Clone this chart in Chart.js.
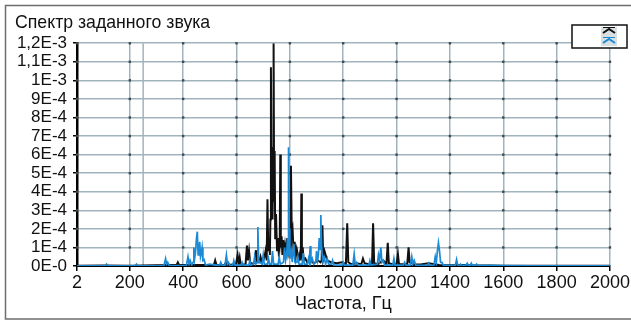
<!DOCTYPE html>
<html>
<head>
<meta charset="utf-8">
<script src="https://cdn.jsdelivr.net/npm/chart.js@4.4.0/dist/chart.umd.min.js"></script>
<style>
html, body { margin: 0; padding: 0; background: #fff; }
#wrap { width: 631px; height: 322px; }
</style>
</head>
<body>
<div id="wrap"><canvas id="spectrum_chart"></canvas></div>
<script>
const xTicks = [2, 200, 400, 600, 800, 1000, 1200, 1400, 1600, 1800, 2000];
// y values are kept in units of 1E-4
const yTickLabels = ['0E-0', '1E-4', '2E-4', '3E-4', '4E-4', '5E-4', '6E-4',
    '7E-4', '8E-4', '9E-4', '1E-3', '1,1E-3', '1,2E-3'];
const cursorFreq = 250;

// [frequency Hz, amplitude x1E-4]
const blackSpectrum = [
    [2, 0.02], [100, 0.03], [200, 0.02], [300, 0.04], [335, 0.05], [340, 0.15], [345, 0.05],
    [375, 0.05], [380, 0.2], [385, 0.05], [430, 0.05], [515, 0.05], [520, 0.3], [525, 0.05],
    [555, 0.05], [560, 0.2], [565, 0.05], [598, 0.1], [604, 0.6], [608, 0.1], [612, 0.45],
    [616, 0.05], [634, 0.1], [639, 1.1], [643, 0.3], [647, 0.8], [651, 0.2], [660, 0.1],
    [668, 0.2], [673, 0.85], [677, 0.2], [685, 0.2], [690, 0.5], [695, 0.2], [700, 0.3],
    [705, 0.5], [710, 0.9], [713, 0.3], [716, 3.6], [719, 0.8], [722, 1.5], [725, 0.6],
    [727, 2.5], [729, 10.7], [731, 4.0], [733, 6.4], [735, 2.5], [737, 5.0], [739, 12.0],
    [741, 3.5], [743, 6.2], [745, 1.5], [748, 2.8], [752, 0.8], [756, 1.5], [759, 0.5],
    [762, 1.2], [764, 6.0], [766, 1.0], [769, 1.6], [772, 0.6], [775, 1.4], [778, 0.5],
    [782, 1.1], [786, 0.6], [790, 1.5], [794, 0.7], [798, 1.0], [801, 0.8], [804, 5.4],
    [807, 1.8], [810, 2.0], [814, 0.7], [818, 1.3], [822, 0.5], [826, 0.9], [830, 0.6],
    [834, 0.4], [838, 0.7], [841, 0.3], [843, 3.9], [845, 0.4], [848, 1.0], [852, 0.3],
    [858, 0.4], [865, 0.2], [875, 0.3], [890, 0.15], [905, 0.3], [915, 0.2], [919, 0.3],
    [922, 2.2], [925, 0.4], [930, 0.8], [940, 0.3], [955, 0.2], [975, 0.15], [995, 0.2],
    [1010, 0.1], [1015, 2.3], [1019, 0.2], [1030, 0.1], [1050, 0.15], [1068, 0.1], [1074, 0.4],
    [1080, 0.15], [1095, 0.1], [1108, 0.1], [1112, 2.3], [1116, 0.15], [1130, 0.1], [1150, 0.3],
    [1162, 0.1], [1167, 1.25], [1171, 0.15], [1185, 0.1], [1200, 0.1], [1205, 0.65], [1209, 0.1],
    [1225, 0.1], [1240, 0.1], [1245, 1.0], [1249, 0.2], [1265, 0.1], [1290, 0.08], [1320, 0.15],
    [1360, 0.05], [1400, 0.04], [1450, 0.05], [1500, 0.03], [1550, 0.03], [1600, 0.02],
    [1700, 0.02], [1800, 0.02], [1900, 0.02], [2000, 0.02]
];

const blueSpectrum = [
    [2, 0.01], [108, 0.01], [113, 0.1], [118, 0.01], [220, 0.01], [225, 0.1], [230, 0.01],
    [328, 0.02], [334, 0.4], [338, 0.1], [342, 0.2], [348, 0.02], [412, 0.02], [418, 0.5],
    [422, 0.1], [426, 0.3], [432, 0.05], [437, 0.2], [440, 1.0], [443, 0.4], [446, 0.7],
    [450, 1.5], [453, 1.85], [456, 0.6], [459, 0.9], [462, 1.3], [465, 0.5], [468, 0.7],
    [471, 1.0], [474, 0.3], [478, 0.35], [484, 0.05], [500, 0.1], [520, 0.05], [537, 0.05],
    [541, 0.2], [545, 0.05], [557, 0.05], [562, 0.6], [566, 0.1], [570, 0.2], [575, 0.03],
    [586, 0.05], [590, 0.3], [594, 0.05], [617, 0.05], [621, 0.2], [625, 0.05], [646, 0.05],
    [650, 0.3], [654, 0.05], [664, 0.1], [668, 0.5], [672, 0.1], [677, 0.2], [680, 2.1],
    [683, 0.3], [687, 0.2], [696, 0.1], [700, 0.6], [704, 0.1], [716, 0.1], [720, 0.4],
    [724, 0.1], [731, 0.1], [735, 0.8], [739, 0.1], [756, 0.1], [760, 0.5], [764, 0.1],
    [776, 0.2], [780, 1.0], [784, 0.3], [788, 0.6], [791, 1.5], [793, 0.6], [795, 6.4],
    [797, 2.0], [800, 0.4], [805, 0.8], [809, 0.2], [815, 1.2], [819, 0.2], [826, 0.2],
    [830, 0.5], [834, 0.1], [846, 0.1], [850, 0.7], [854, 0.1], [866, 0.1], [870, 0.4],
    [873, 0.2], [876, 1.07], [879, 0.2], [884, 0.4], [890, 0.1], [897, 0.2], [900, 0.8],
    [904, 0.3], [907, 0.6], [910, 1.5], [913, 0.9], [916, 2.75], [919, 1.0], [923, 0.3],
    [928, 0.5], [934, 0.1], [940, 0.4], [945, 0.1], [956, 0.1], [960, 0.3], [965, 0.05],
    [996, 0.05], [1000, 0.2], [1004, 0.05], [1036, 0.05], [1041, 0.65], [1045, 0.1],
    [1050, 0.2], [1056, 0.05], [1096, 0.05], [1100, 0.3], [1104, 0.05], [1128, 0.1],
    [1132, 0.6], [1136, 0.3], [1141, 1.0], [1145, 0.2], [1150, 0.3], [1155, 0.05], [1186, 0.05],
    [1190, 0.4], [1194, 0.05], [1225, 0.05], [1230, 0.2], [1235, 0.05], [1252, 0.05],
    [1257, 0.5], [1261, 0.1], [1266, 0.3], [1272, 0.05], [1316, 0.03], [1320, 0.15],
    [1324, 0.03], [1340, 0.05], [1345, 0.5], [1349, 0.2], [1353, 0.8], [1357, 1.25],
    [1361, 0.8], [1365, 0.2], [1370, 0.2], [1376, 0.03], [1420, 0.03], [1425, 0.35],
    [1429, 0.05], [1436, 0.03], [1440, 0.1], [1444, 0.03], [1460, 0.03], [1465, 0.15],
    [1469, 0.03], [1476, 0.03], [1480, 0.15], [1484, 0.03], [1496, 0.03], [1500, 0.1],
    [1505, 0.02], [1550, 0.03], [1600, 0.02], [1700, 0.01], [2000, 0.01]
];

const gridColor = '#9fb4bd';
const axisFont = 'Liberation Sans, Arial, sans-serif';

const decor = {
    id: 'decor',
    beforeDraw(chart) {
        const ctx = chart.ctx;
        ctx.save();
        ctx.fillStyle = '#fff';
        ctx.fillRect(0, 0, chart.width, chart.height);
        ctx.strokeStyle = '#6d6d6d';
        ctx.lineWidth = 1.5;
        ctx.strokeRect(5.5, 5.5, 660, 313.5);
        ctx.restore();
    },
    beforeDatasetsDraw(chart) {
        const ctx = chart.ctx;
        const x = chart.scales.x, y = chart.scales.y;
        ctx.save();
        // cursor line
        const cx = x.getPixelForValue(cursorFreq);
        ctx.strokeStyle = gridColor;
        ctx.lineWidth = 1.5;
        ctx.beginPath();
        ctx.moveTo(cx, chart.chartArea.top);
        ctx.lineTo(cx, chart.chartArea.bottom);
        ctx.stroke();
        // dots where grid lines cross
        ctx.fillStyle = '#3e4c52';
        xTicks.forEach(fv => {
            const px = x.getPixelForValue(fv);
            for (let i = 1; i < yTickLabels.length; i++) {
                const py = y.getPixelForValue(i);
                ctx.fillRect(px - 1.2, py - 1.2, 2.4, 2.4);
            }
        });
        ctx.restore();
    },
    afterDraw(chart) {
        const ctx = chart.ctx;
        ctx.save();
        // legend box
        ctx.fillStyle = '#fff';
        ctx.fillRect(572, 25, 55, 23);
        ctx.strokeStyle = '#111';
        ctx.lineWidth = 1.5;
        ctx.strokeRect(572, 25, 55, 23);
        ctx.fillStyle = '#d9dee1';
        ctx.fillRect(601, 27, 16, 19);
        const marks = [['#111', 33], ['#1b8ad6', 43]];
        marks.forEach(([col, base]) => {
            ctx.strokeStyle = col;
            ctx.lineWidth = 2;
            ctx.beginPath();
            ctx.moveTo(603, base);
            ctx.lineTo(609, base - 4);
            ctx.lineTo(615, base);
            ctx.stroke();
            ctx.lineWidth = 1;
            ctx.beginPath();
            ctx.moveTo(603, base - 5.5);
            ctx.lineTo(615, base - 5.5);
            ctx.stroke();
        });
        ctx.restore();
    }
};

const toPoints = arr => arr.map(p => ({ x: p[0], y: p[1] }));

var ctx = document.getElementById('spectrum_chart').getContext('2d');
var spectrumChart = new Chart(ctx, {
    type: 'line',
    data: {
        datasets: [{
            label: 'blue',
            data: toPoints(blueSpectrum),
            borderColor: '#1b8ad6',
            borderWidth: 1.7,
            pointRadius: 0,
            tension: 0,
            fill: false
        }, {
            label: 'black',
            data: toPoints(blackSpectrum),
            borderColor: '#111',
            borderWidth: 2,
            pointRadius: 0,
            tension: 0,
            fill: false
        }]
    },
    options: {
        responsive: true,
        maintainAspectRatio: false,
        animation: false,
        layout: {
            padding: { left: 15, right: 19, top: 12, bottom: 4 }
        },
        plugins: {
            legend: { display: false },
            tooltip: { enabled: false },
            title: {
                display: true,
                text: 'Спектр заданного звука',
                align: 'start',
                color: '#111',
                font: { family: axisFont, size: 17.7, weight: 'normal' },
                padding: { top: 0, bottom: 10 }
            }
        },
        scales: {
            x: {
                type: 'linear',
                min: 2,
                max: 2000,
                afterBuildTicks: s => { s.ticks = xTicks.map(v => ({ value: v })); },
                afterFit: s => { s.height = 52; },
                ticks: {
                    color: '#111',
                    font: { family: axisFont, size: 18 },
                    padding: 1,
                    maxRotation: 0,
                    autoSkip: false,
                    callback: v => String(v)
                },
                grid: { color: gridColor, lineWidth: 1.5, tickLength: 5, tickColor: '#000' },
                border: { color: '#000', width: 2 },
                title: {
                    display: true,
                    text: 'Частота, Гц',
                    color: '#111',
                    font: { family: axisFont, size: 18 },
                    padding: { top: 0, bottom: 3 }
                }
            },
            y: {
                min: 0,
                max: 12,
                afterFit: s => { s.width = 62; },
                ticks: {
                    stepSize: 1,
                    autoSkip: false,
                    color: '#111',
                    font: { family: axisFont, size: 17 },
                    padding: 6,
                    callback: v => yTickLabels[v]
                },
                grid: { color: gridColor, lineWidth: 1.5, tickLength: 4, tickColor: '#000' },
                border: { color: '#000', width: 2.5 }
            }
        }
    },
    plugins: [decor]
});
</script>
</body>
</html>
